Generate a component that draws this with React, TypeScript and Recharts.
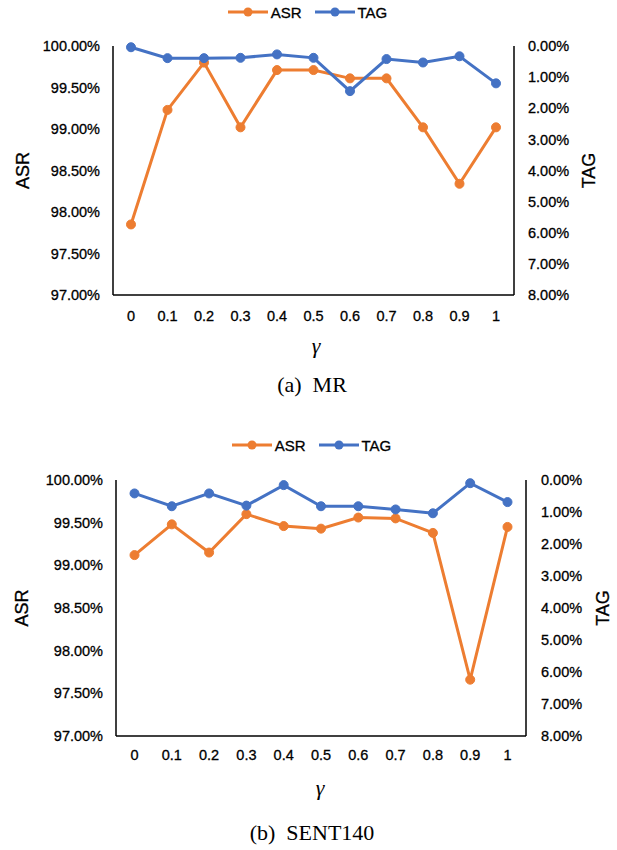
import React from 'react';
import { LineChart, Line, XAxis, YAxis, Legend } from 'recharts';

// gamma values on the x axis
const gammaLabels = ['0', '0.1', '0.2', '0.3', '0.4', '0.5', '0.6', '0.7', '0.8', '0.9', '1'];

// (a) MR
const mrASR = [97.85, 99.23, 99.8, 99.02, 99.71, 99.71, 99.61, 99.61, 99.02, 98.34, 99.02];
const mrTAG = [0.04, 0.39, 0.39, 0.38, 0.27, 0.38, 1.45, 0.42, 0.53, 0.33, 1.2];

// (b) SENT140
const sentASR = [99.12, 99.48, 99.15, 99.6, 99.46, 99.43, 99.56, 99.55, 99.38, 97.66, 99.45];
const sentTAG = [0.42, 0.82, 0.42, 0.8, 0.16, 0.82, 0.82, 0.92, 1.04, 0.1, 0.69];

const asrTicks = [97, 97.5, 98, 98.5, 99, 99.5, 100];
const tagTicks = [0, 1, 2, 3, 4, 5, 6, 7, 8];

const ORANGE = '#ED7D31';
const BLUE = '#4472C4';
const SANS = '"Liberation Sans", Arial, sans-serif';
const SERIF = '"Liberation Serif", "Times New Roman", serif';

const pct = (v: number) => `${v.toFixed(2)}%`;

type PanelProps = {
  asr: number[];
  tag: number[];
  caption: string;
  top: number;
  height: number;
  legendH: number;
  legendY: number;
  legendShift: number;
  ml: number;
  mr: number;
  mb: number;
  leftW: number;
  rightW: number;
  xPad: number;
  xTickGap: number;
  lTickGap: number;
  rTickGap: number;
  asrOffset: number;
  tagOffset: number;
  gammaX: number;
  gammaY: number;
  captionX: number;
  captionY: number;
};

const LegendRow = ({ payload, height, rowY, shift }: any) => (
  <div style={{ position: 'relative', width: 617, height }}>
    <div
      style={{
        position: 'absolute',
        left: shift,
        top: rowY - 12,
        width: 617,
        height: 24,
        display: 'flex',
        justifyContent: 'center',
        alignItems: 'center',
        gap: 13,
      }}
    >
      {(payload || []).map((p: any) => (
        <div key={p.value} style={{ display: 'flex', alignItems: 'center' }}>
          <svg width={40} height={12}>
            <line x1={0} y1={6} x2={40} y2={6} stroke={p.color} strokeWidth={3} />
            <circle cx={20} cy={6} r={4.5} fill={p.color} />
          </svg>
          <span
            style={{
              marginLeft: 3,
              fontSize: 15,
              fontFamily: SANS,
              color: '#000',
              WebkitTextStroke: '0.3px #000',
            }}
          >
            {p.value}
          </span>
        </div>
      ))}
    </div>
  </div>
);

const Panel = (p: PanelProps) => {
  const rows = gammaLabels.map((g, i) => ({ gamma: g, ASR: p.asr[i], TAG: p.tag[i] }));
  const tick = { fontSize: 14.5, fontFamily: SANS, fill: '#000', stroke: '#000', strokeWidth: 0.3 };
  const border = { stroke: '#000', strokeWidth: 1.5 };
  const titleStyle = { textAnchor: 'middle', fontSize: 18, fontFamily: SANS, fill: '#000', stroke: '#000', strokeWidth: 0.3 };
  return (
    <div style={{ position: 'absolute', left: 0, top: p.top, width: 617 }}>
      <LineChart
        width={617}
        height={p.height}
        data={rows}
        margin={{ top: 0, right: p.mr, bottom: p.mb, left: p.ml }}
      >
        <Legend
          verticalAlign="top"
          wrapperStyle={{ left: 0, top: 0, width: 617 }}
          content={(props: any) => (
            <LegendRow payload={props.payload} height={p.legendH} rowY={p.legendY} shift={p.legendShift} />
          )}
        />
        <XAxis
          xAxisId="b"
          dataKey="gamma"
          height={30}
          padding={{ left: p.xPad, right: p.xPad }}
          tick={tick}
          tickLine={false}
          tickSize={0}
          tickMargin={p.xTickGap}
          axisLine={border}
        />
        <XAxis
          xAxisId="t"
          dataKey="gamma"
          orientation="top"
          height={0}
          padding={{ left: p.xPad, right: p.xPad }}
          tick={false}
          tickLine={false}
          axisLine={border}
        />
        <YAxis
          yAxisId="asr"
          domain={[97, 100]}
          ticks={asrTicks}
          tickFormatter={pct}
          width={p.leftW}
          tick={tick}
          tickLine={false}
          tickSize={0}
          tickMargin={p.lTickGap}
          axisLine={border}
          label={{ value: 'ASR', angle: -90, position: 'insideLeft', offset: p.asrOffset, style: titleStyle }}
        />
        <YAxis
          yAxisId="tag"
          orientation="right"
          reversed
          domain={[0, 8]}
          ticks={tagTicks}
          tickFormatter={pct}
          width={p.rightW}
          tick={tick}
          tickLine={false}
          tickSize={0}
          tickMargin={p.rTickGap}
          axisLine={border}
          label={{ value: 'TAG', angle: -90, position: 'insideRight', offset: p.tagOffset, style: titleStyle }}
        />
        <Line
          xAxisId="b"
          yAxisId="asr"
          dataKey="ASR"
          name="ASR"
          stroke={ORANGE}
          strokeWidth={3}
          dot={{ r: 4.5, fill: ORANGE, stroke: ORANGE, strokeWidth: 1 }}
          isAnimationActive={false}
        />
        <Line
          xAxisId="b"
          yAxisId="tag"
          dataKey="TAG"
          name="TAG"
          stroke={BLUE}
          strokeWidth={3}
          dot={{ r: 4.5, fill: BLUE, stroke: BLUE, strokeWidth: 1 }}
          isAnimationActive={false}
        />
      </LineChart>
      <div
        style={{
          position: 'absolute',
          left: p.gammaX,
          top: p.gammaY - p.top,
          transform: 'translate(-50%, -50%)',
          fontFamily: SERIF,
          fontStyle: 'italic',
          fontSize: 22,
          lineHeight: 1,
        }}
      >
        γ
      </div>
      <div
        style={{
          position: 'absolute',
          left: p.captionX,
          top: p.captionY - p.top,
          transform: 'translate(-50%, -50%)',
          fontFamily: SERIF,
          fontSize: 22,
          lineHeight: 1,
          whiteSpace: 'pre',
        }}
      >
        {p.caption}
      </div>
    </div>
  );
};

export default function App() {
  return (
    <div style={{ position: 'absolute', left: 0, top: 0, width: 617, height: 850, background: '#fff' }}>
      <Panel
        asr={mrASR}
        tag={mrTAG}
        caption={'(a)  MR'}
        top={0}
        height={330}
        legendH={46}
        legendY={12}
        legendShift={-1}
        ml={13}
        mr={13}
        mb={5}
        leftW={100}
        rightW={90}
        xPad={18}
        xTickGap={16}
        lTickGap={13}
        rTickGap={14}
        asrOffset={10}
        tagOffset={15}
        gammaX={316}
        gammaY={346}
        captionX={312}
        captionY={385}
      />
      <Panel
        asr={sentASR}
        tag={sentTAG}
        caption={'(b)  SENT140'}
        top={430}
        height={340}
        legendH={50}
        legendY={15}
        legendShift={3}
        ml={14}
        mr={11}
        mb={4}
        leftW={102}
        rightW={80}
        xPad={18.5}
        xTickGap={14}
        lTickGap={13}
        rTickGap={15}
        asrOffset={8}
        tagOffset={3}
        gammaX={320}
        gammaY={788}
        captionX={312}
        captionY={833}
      />
    </div>
  );
}
